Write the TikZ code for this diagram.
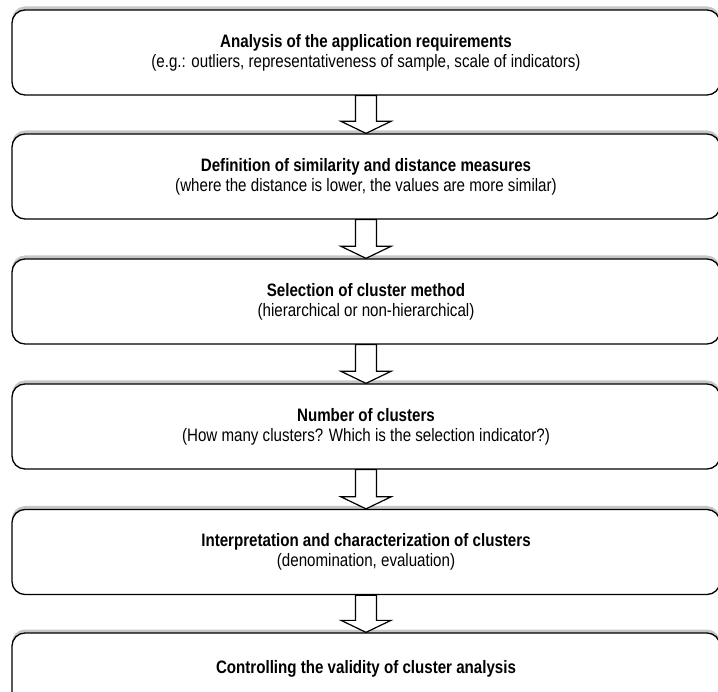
\documentclass[tikz,border=0pt]{standalone}
\usepackage{fontspec}
\setmainfont{Liberation Sans}[FakeStretch=0.84]
\usetikzlibrary{calc,shadows}

\begin{document}
\begin{tikzpicture}[x=1pt, y=-1pt,
    stepbox/.style={draw=black, line width=1.3pt, fill=white, rounded corners=13pt,
      minimum width=708pt, minimum height=#1, align=center, inner sep=0pt,
      font=\fontsize{18}{20}\selectfont,
      drop shadow={shadow xshift=0pt, shadow yshift=3.5pt, fill=gray!45, opacity=1}},
    stepbox/.default=85pt,
    blockarrow/.style={draw=black, line width=1.2pt, fill=white, line join=miter}]
    \useasboundingbox (0,0) rectangle (718,692);
    \node[stepbox] (req) at (366,52.5) {\textbf{Analysis of the application requirements}\\(e.g.: outliers, representativeness of sample, scale of indicators)};
    \node[stepbox] (dist) at (366,176.5) {\textbf{Definition of similarity and distance measures}\\(where the distance is lower, the values are more similar)};
    \node[stepbox] (meth) at (366,301.5) {\textbf{Selection of cluster method}\\(hierarchical or non-hierarchical)};
    \node[stepbox] (num) at (366,426.5) {\textbf{Number of clusters}\\(How many clusters? Which is the selection indicator?)};
    \node[stepbox] (interp) at (366,552) {\textbf{Interpretation and characterization of clusters}\\(denomination, evaluation)};
    \node[stepbox=72pt] (valid) at (366,669) {\textbf{Controlling the validity of cluster analysis}};
    % hollow block arrows between the steps
    \foreach \a/\b in {req/dist,dist/meth,meth/num,num/interp,interp/valid}
      \draw[blockarrow] ($(\a.south)+(-10.5,0)$) -- ($(\b.north)+(-10.5,-12)$) -- ++(-14.5,0)
        -- (\b.north) -- ++(25,-12) -- ++(-14.5,0) -- ($(\a.south)+(10.5,0)$) -- cycle;
\end{tikzpicture}
\end{document}
